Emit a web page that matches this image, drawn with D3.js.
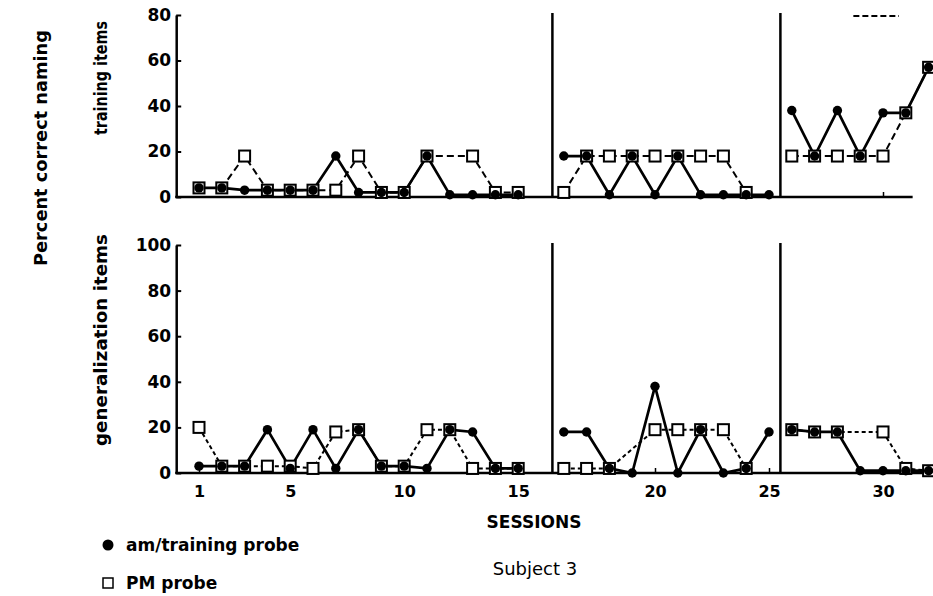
<!DOCTYPE html>
<html>
<head>
<meta charset="utf-8">
<script src="https://cdn.jsdelivr.net/npm/d3@7/dist/d3.min.js"></script>
<style>
body{margin:0;background:#fff;}
svg{display:block;}
text{font-family:"DejaVu Sans",sans-serif;fill:#000;}
</style>
</head>
<body>
<div id="chart"></div>
<script>
// sessions 1..32, null = no probe that session
var sessions = d3.range(1, 33);
var trainAm = [4,4,3,3,3,3,18,2,2,2,18,1,1,1,1, 18,18,1,18,1,18,1,1,1,1, 38,18,38,18,37,37,57];
var trainPm = [4,4,18,3,3,3,3,18,2,2,18,null,18,2,2, 2,18,18,18,18,18,18,18,2,null, 18,18,18,18,18,37,57];
var genAm = [3,3,3,19,2,19,2,19,3,3,2,19,18,2,2, 18,18,2,0,38,0,19,0,2,18, 19,18,18,1,1,1,1];
var genPm = [20,3,3,3,3,2,18,19,3,3,19,19,2,2,2, 2,2,2,null,19,19,19,19,2,null, 19,18,18,null,18,2,1];
var tickSessions = [1,5,10,15,20,25,30];
var phaseBreaks = [15.5, 25.5];   // phase change lines between sessions
var trainTicks = [0,20,40,60,80];
var genTicks = [0,20,40,60,80,100];

var width = 933, height = 596;

var svg = d3.select("#chart").append("svg")
    .attr("width", width)
    .attr("height", height);

// one empty slot is left after session 15 for the phase line
function slot(s){ return s > 15 ? s + 1 : s; }

var x = d3.scaleLinear().domain([1, 33]).range([199, 928.6]);

var panels = [
    {am: trainAm, pm: trainPm, max: 80, ticks: trainTicks, top: 15, bottom: 197,
     axisEnd: 32.3, xTicks: [30], labels: false, dash: "7,4",
     title: "training items", titleY: 78, titleLen: 114},
    {am: genAm, pm: genPm, max: 100, ticks: genTicks, top: 245, bottom: 473,
     axisEnd: 33.2, xTicks: tickSessions, labels: true, dash: "4,3",
     title: "generalization items", titleY: 340, titleLen: 212}
];

function boldText(sel, size){
    sel.style("font-family", "'DejaVu Sans',sans-serif")
        .style("font-size", size + "px")
        .style("font-weight", "bold");
}

panels.forEach(function(p){
    var y = d3.scaleLinear().domain([0, p.max]).range([p.bottom, p.top]);
    var g = svg.append("g");

    // y axis, ticks pointing inwards
    var yAxis = d3.axisLeft(y).tickValues(p.ticks).tickSize(-5).tickSizeOuter(0).tickPadding(5);
    var ya = g.append("g")
        .attr("transform", "translate(" + x(0) + ",0)")
        .call(yAxis);
    ya.select(".domain").attr("stroke-width", 2.5);
    ya.selectAll(".tick line").attr("stroke-width", 2);
    ya.selectAll(".tick text").call(boldText, 17);

    // x baseline
    g.append("line")
        .attr("x1", x(0) - 1).attr("x2", x(p.axisEnd))
        .attr("y1", y(0)).attr("y2", y(0))
        .attr("stroke", "#000").attr("stroke-width", 2.5);

    var xAxis = d3.axisBottom(x)
        .tickValues(p.xTicks.map(slot))
        .tickFormat(function(d, i){ return p.labels ? p.xTicks[i] : ""; })
        .tickSize(-5).tickSizeOuter(0).tickPadding(13);
    var xa = g.append("g")
        .attr("transform", "translate(0," + y(0) + ")")
        .call(xAxis);
    xa.select(".domain").remove();
    xa.selectAll(".tick line").attr("stroke-width", 1.5);
    xa.selectAll(".tick text").call(boldText, 16);

    // phase change lines
    g.selectAll(".phase")
        .data(phaseBreaks)
        .enter().append("line")
        .attr("x1", function(d){ return x(slot(d)); })
        .attr("x2", function(d){ return x(slot(d)); })
        .attr("y1", y(p.max) - 2)
        .attr("y2", y(0))
        .attr("stroke", "#000")
        .attr("stroke-width", 2.5);

    var amPts = sessions.map(function(s, i){ return {s: s, v: p.am[i]}; })
        .filter(function(d){ return d.v != null; });
    var pmPts = sessions.map(function(s, i){ return {s: s, v: p.pm[i]}; })
        .filter(function(d){ return d.v != null; });

    var line = d3.line()
        .x(function(d){ return x(slot(d.s)); })
        .y(function(d){ return y(d.v); });

    // lines are broken at each phase change
    function segs(pts){
        return [
            pts.filter(function(d){ return d.s <= 15; }),
            pts.filter(function(d){ return d.s > 15 && d.s <= 25; }),
            pts.filter(function(d){ return d.s > 25; })
        ];
    }

    g.selectAll(".pmline")
        .data(segs(pmPts))
        .enter().append("path")
        .attr("d", line)
        .attr("fill", "none")
        .attr("stroke", "#000")
        .attr("stroke-width", 2)
        .attr("stroke-dasharray", p.dash);

    g.selectAll(".amline")
        .data(segs(amPts))
        .enter().append("path")
        .attr("d", line)
        .attr("fill", "none")
        .attr("stroke", "#000")
        .attr("stroke-width", 2.7);

    g.selectAll(".pm")
        .data(pmPts)
        .enter().append("rect")
        .attr("x", function(d){ return x(slot(d.s)) - 5.5; })
        .attr("y", function(d){ return y(d.v) - 5.5; })
        .attr("width", 11)
        .attr("height", 11)
        .attr("fill", "#fff")
        .attr("stroke", "#000")
        .attr("stroke-width", 2);

    g.selectAll(".am")
        .data(amPts)
        .enter().append("circle")
        .attr("cx", function(d){ return x(slot(d.s)); })
        .attr("cy", function(d){ return y(d.v); })
        .attr("r", 4.7)
        .attr("fill", "#000");

    // panel title
    svg.append("text")
        .attr("transform", "translate(107," + p.titleY + ") rotate(-90)")
        .attr("text-anchor", "middle")
        .attr("textLength", p.titleLen)
        .attr("lengthAdjust", "spacingAndGlyphs")
        .call(boldText, 17)
        .text(p.title);

    p.y = y;
});

// stray dashed mark at the top of the last phase
svg.append("line")
    .attr("x1", x(slot(28.7))).attr("x2", x(slot(30.7)))
    .attr("y1", panels[0].y(80) + 1).attr("y2", panels[0].y(80) + 1)
    .attr("stroke", "#000").attr("stroke-width", 2)
    .attr("stroke-dasharray", "6,3");

svg.append("text")
    .attr("transform", "translate(47,148) rotate(-90)")
    .attr("text-anchor", "middle")
    .attr("textLength", 236)
    .attr("lengthAdjust", "spacingAndGlyphs")
    .call(boldText, 17)
    .text("Percent correct naming");

svg.append("text")
    .attr("x", 534).attr("y", 528)
    .attr("text-anchor", "middle")
    .call(boldText, 17)
    .text("SESSIONS");

svg.append("text")
    .attr("x", 535).attr("y", 575)
    .attr("text-anchor", "middle")
    .style("font-size", "18px")
    .text("Subject 3");

// legend
var legend = svg.append("g");
legend.append("circle")
    .attr("cx", 108).attr("cy", 545).attr("r", 5.5).attr("fill", "#000");
legend.append("text")
    .attr("x", 126).attr("y", 551)
    .call(boldText, 17)
    .text("am/training probe");
legend.append("rect")
    .attr("x", 103).attr("y", 578).attr("width", 10).attr("height", 10)
    .attr("fill", "#fff").attr("stroke", "#000").attr("stroke-width", 1.5);
legend.append("text")
    .attr("x", 126).attr("y", 589)
    .call(boldText, 17)
    .text("PM probe");
</script>
</body>
</html>
